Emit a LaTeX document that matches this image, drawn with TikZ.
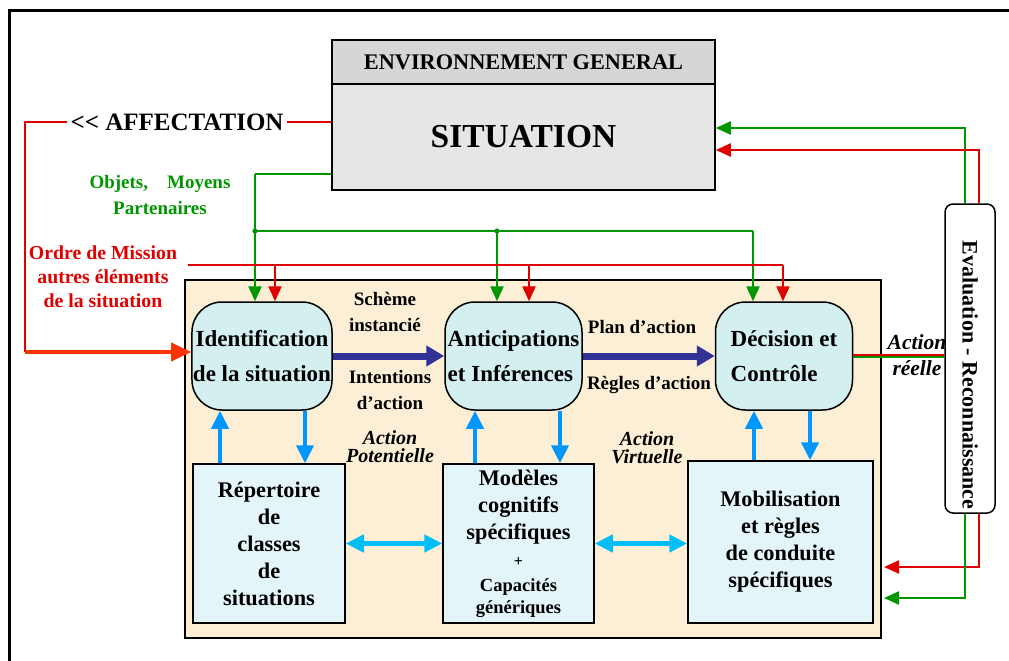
\documentclass[tikz,border=0pt]{standalone}
\usepackage{fontspec}
\setmainfont{Liberation Serif}
\usepackage{tikz}
\usetikzlibrary{arrows.meta}
\definecolor{beige}{RGB}{252,239,214}
\definecolor{envgray}{RGB}{214,214,214}
\definecolor{sitgray}{RGB}{230,230,230}
\definecolor{checker}{RGB}{212,239,240}
\definecolor{wave}{RGB}{228,245,249}
\definecolor{vert}{RGB}{0,150,0}
\definecolor{rouge}{RGB}{225,0,0}
\definecolor{orangered}{RGB}{255,50,0}
\definecolor{navy}{RGB}{50,50,150}
\definecolor{skyb}{RGB}{0,150,255}
\definecolor{cyanb}{RGB}{0,190,250}

\begin{document}
\begin{tikzpicture}[x=1pt,y=-1pt,
  envbox/.style={draw,line width=1.5pt,minimum width=383pt,inner sep=0pt},
  roundbox/.style={draw,line width=1.5pt,rounded corners=30pt,fill=checker,
    minimum width=137pt,minimum height=108pt,inner sep=1pt,
    font=\fontsize{23}{35}\selectfont\bfseries},
  sqbox/.style={draw,line width=1.5pt,fill=wave,align=center,inner sep=0pt,
    font=\fontsize{22.3}{27}\selectfont\bfseries},
  lbl/.style={align=center,font=\fontsize{19}{26}\selectfont\bfseries},
  ital/.style={align=center,font=\fontsize{20}{18}\selectfont\bfseries\itshape},
  grn/.style={draw=vert,line width=2.3pt},
  grnarr/.style={grn,-{Triangle[length=15pt,width=13pt]}},
  redln/.style={draw=rouge,line width=2.3pt},
  redarr/.style={redln,-{Triangle[length=15pt,width=13pt]}},
  darkarr/.style={draw=navy,line width=7pt,-{Triangle[length=18pt,width=20pt]}},
  vbl/.style={draw=skyb,line width=4pt,-{Triangle[length=18pt,width=17pt]}},
  hbl/.style={draw=cyanb,line width=4.5pt,{Triangle[length=18pt,width=17pt]}-{Triangle[length=18pt,width=17pt]}}]
\useasboundingbox (0,0) rectangle (1009,661);
\draw[line width=3pt] (9,662) -- (9,11) -- (1010,11);

\node[draw,line width=1.5pt,fill=beige,minimum width=696pt,minimum height=358pt] (work) at (533,459) {};

\node[envbox,fill=envgray,minimum height=44pt,font=\fontsize{22.3}{22}\selectfont\bfseries] (env) at (523.5,62) {ENVIRONNEMENT GENERAL};
\node[envbox,fill=sitgray,minimum height=106pt,font=\fontsize{33.5}{33}\selectfont\bfseries] (sit) at (523.5,137) {SITUATION};

\node[roundbox,align=center] (ident) at (262,356) {Identification\\de la situation};
\node[roundbox,align=left] (antic) at (513.5,356) {Anticipations\\et Inférences};
\node[roundbox,align=left] (deci) at (784,356) {Décision et\\Contrôle};

\node[sqbox,minimum width=152pt,minimum height=159pt] (repert) at (269,543.5) {Répertoire\\de\\classes\\de\\situations};
\node[sqbox,minimum width=151pt,minimum height=159pt] (modeles) at (518.5,543.5) {Modèles\\cognitifs\\spécifiques\\[0pt]{\fontsize{16}{16}\selectfont +}\\[-2pt]{\fontsize{18.5}{21}\selectfont Capacités}\\[-5pt]{\fontsize{18.5}{21}\selectfont génériques}};
\node[sqbox,minimum width=185pt,minimum height=162pt] (mobil) at (780.5,542) {Mobilisation\\et règles\\de conduite\\spécifiques};

\node[draw,line width=1.5pt,rounded corners=8pt,fill=white,minimum width=50pt,minimum height=309pt] (eval) at (970,358.5) {};
\node[rotate=-90,font=\fontsize{22}{22}\selectfont\bfseries] (evaltxt) at (970,375) {Evaluation - Reconnaissance};

\node[font=\fontsize{25}{25}\selectfont\bfseries] (affect) at (177,122) {<{}< AFFECTATION};
\node[lbl,text=vert] (objets) at (160,195) {Objets,\quad Moyens\\Partenaires};
\node[lbl,text=rouge,font=\fontsize{19.8}{24}\selectfont\bfseries] (ordre) at (103,277) {Ordre de Mission\\autres éléments\\de la situation};
\node[lbl] (scheme) at (385,312) {Schème\\instancié};
\node[lbl] (intent) at (390,390) {Intentions\\d’action};
\node[lbl] (plan) at (642,327) {Plan d’action};
\node[lbl] (regles) at (649,385) {Règles d’action};
\node[ital] (potent) at (390,447) {Action\\Potentielle};
\node[ital] (virtu) at (647,448) {Action\\Virtuelle};
\node[ital,font=\fontsize{21.5}{26}\selectfont\bfseries\itshape] (reelle) at (917,355) {Action\\réelle};

\coordinate (acorner) at (25,122);
\coordinate (alow) at (25,352);
\draw[redln] (sit.west |- affect) -- (affect.east);
\draw[redln] (affect.west) -- (acorner) -- (alow);
\draw[draw=orangered,line width=3.5pt,-{Triangle[length=20pt,width=18pt]}] (alow) -- (ident.west |- alow);

\coordinate (gsplit) at (255,174);
\coordinate (gbus) at (255,231);
\coordinate (gmid) at (497,231);
\coordinate (gbusend) at (753,231);
\draw[grn] (sit.west |- gsplit) -- (gsplit);
\draw[grnarr] (gsplit) -- (ident.north -| gsplit);
\draw[grn] (gbus) -- (gbusend);
\draw[grnarr] (gmid) -- (antic.north -| gmid);
\draw[grnarr] (gbusend) -- (deci.north -| gbusend);
\fill[vert] (gbus) circle (2.6pt) (gmid) circle (2.6pt);

\coordinate (rbus) at (188,265);
\coordinate (r1) at (275,265);
\coordinate (r2) at (529,265);
\coordinate (rbusend) at (783,265);
\draw[redln] (rbus) -- (rbusend);
\draw[redarr] (r1) -- (ident.north -| r1);
\draw[redarr] (r2) -- (antic.north -| r2);
\draw[redarr] (rbusend) -- (deci.north -| rbusend);

\draw[darkarr] (ident.east) -- (antic.west);
\draw[darkarr] (antic.east) -- (deci.west);

\draw[vbl] (repert.north -| 220,0) -- (ident.south -| 220,0);
\draw[vbl] (ident.south -| 305,0) -- (repert.north -| 305,0);
\draw[vbl] (modeles.north -| 475,0) -- (antic.south -| 475,0);
\draw[vbl] (antic.south -| 560,0) -- (modeles.north -| 560,0);
\draw[vbl] (mobil.north -| 754,0) -- (deci.south -| 754,0);
\draw[vbl] (deci.south -| 810,0) -- (mobil.north -| 810,0);

\draw[hbl] (repert.east) -- (modeles.west);
\draw[hbl] (modeles.east) -- (modeles.east -| mobil.west);

\draw[redln,line width=2pt] ([yshift=1pt]deci.east) -- ([yshift=1pt]deci.east -| eval.west);
\draw[grn,line width=2pt] ([yshift=-1pt]deci.east) -- ([yshift=-1pt]deci.east -| eval.west);

\coordinate (eg) at (965,128);
\coordinate (er) at (979,150);
\coordinate (egb) at (884,598);
\coordinate (erb) at (884,567);
\draw[grnarr] (eval.north -| eg) |- (sit.east |- eg);
\draw[redarr] (eval.north -| er) |- (sit.east |- er);
\draw[redarr] (eval.south -| er) |- (erb);
\draw[grnarr] (eval.south -| eg) |- (egb);
\end{tikzpicture}
\end{document}
